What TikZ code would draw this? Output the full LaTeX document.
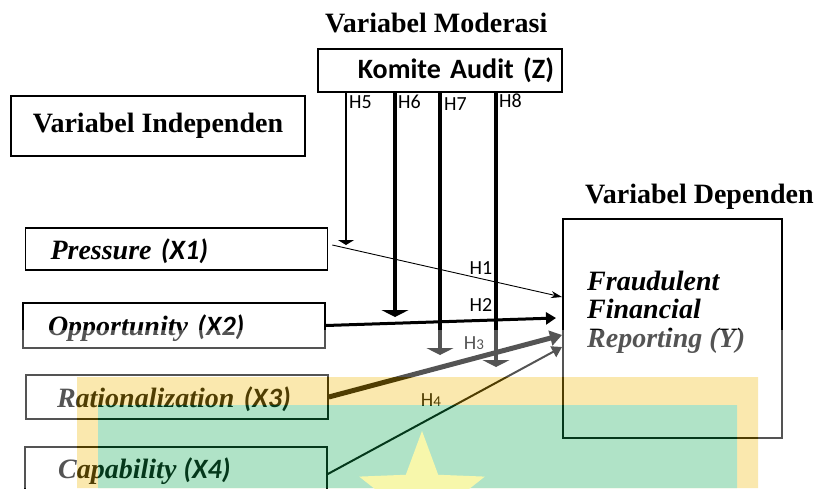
\documentclass[tikz,border=0pt]{standalone}
\usepackage{fontspec}
\setmainfont{Liberation Serif}[BoldFont={Liberation Serif Bold}, ItalicFont={Liberation Serif Italic}, BoldItalicFont={Liberation Serif Bold Italic}]
\setsansfont{Carlito}
\usepackage{xcolor}
\usetikzlibrary{arrows.meta,shapes.geometric,positioning}

\definecolor{wmyellow}{rgb}{0.94,0.73,0.03}
\definecolor{wmgreen}{rgb}{0.06,0.67,0.33}
\definecolor{wmstar}{rgb}{0.91,0.91,0.0}

\begin{document}
\begin{tikzpicture}[x=1pt, y=-1pt,
        title/.style={font=\fontsize{28}{30}\selectfont\bfseries, inner sep=0pt},
        varbox/.style={draw, line width=1.6pt, text width=252pt, inner xsep=25pt, inner ysep=0pt, text depth=0pt, align=left, font=\fontsize{28}{30}\selectfont\bfseries\itshape},
        hlabel/.style={font=\sffamily\fontsize{20}{20}\selectfont, inner sep=0pt},
        modline/.style={line width=3.5pt, -{Triangle[width=27pt,length=7pt]}},
        effline/.style={-{Triangle[width=12pt,length=10pt]}}]

    \path[use as bounding box] (0,0) rectangle (818,488);
    \clip (0,0) rectangle (818,488);

    % judul
    \node [title, anchor=base west] (modtitle) at (325,32) {Variabel Moderasi};
    \node [title, anchor=base west] (deptitle) at (585,203) {Variabel Dependen};
    \node [draw, line width=1.6pt, minimum width=294pt, minimum height=60pt, font=\fontsize{28}{30}\selectfont\bfseries] (indtitle) at (158,126) {Variabel Independen};

    % variabel
    \node [draw, line width=1.6pt, minimum height=43pt, text width=228pt, inner xsep=8pt, align=right, font=\sffamily\fontsize{28}{28}\selectfont\bfseries] (komite) at (440,70.5) {Komite Audit (Z)};
    \node [varbox, minimum height=42pt] (x1) at (176.5,249) {Pressure \textsf{(X1)}};
    \node [varbox, minimum height=45pt] (x2) at (174,325.5) {Opportunity \textsf{(X2)}};
    \node [varbox, minimum height=44pt] (x3) at (177,397) {\hspace*{6pt}Rationalization \textsf{(X3)}};
    \node [varbox, minimum height=54pt] (x4) at (176,474) {};
    \node [anchor=base west, inner sep=0pt, font=\fontsize{28}{30}\selectfont\bfseries\itshape] (x4text) at (58,478) {Capability \textsf{(X4)}};
    \node [draw, line width=1.6pt, minimum width=219pt, minimum height=219pt] (fr) at (672.5,328.5) {};
    \node [anchor=north west, inner sep=0pt, align=left, font=\fontsize{28}{28}\selectfont\bfseries\itshape] (frtext) at (587,270.5) {Fraudulent\\Financial\\[1pt]Reporting (Y)};

    % ujung panah
    \coordinate (t5) at (346,245);
    \coordinate (t6) at (395,317);
    \coordinate (t7) at (440,355);
    \coordinate (t8) at (496,367);
    \coordinate (y1) at (562,297);
    \coordinate (y2) at (556,318);
    \coordinate (y3) at (562,335);
    \coordinate (y4) at (562,347);

    \draw [line width=1.8pt, -{Triangle[width=16pt,length=5pt]}] (komite.south -| t5) -- (t5);
    \draw [modline] (komite.south -| t6) -- (t6);
    \draw [modline] (komite.south -| t7) -- (t7);
    \draw [modline] (komite.south -| t8) -- (t8);

    \draw [line width=0.9pt, -{Stealth[width=7pt,length=11pt]}] ([xshift=4pt,yshift=4pt]x1.east) -- (y1);
    \draw [effline, line width=3pt] (x2.east) -- (y2);
    \draw [line width=5pt, -{Triangle[width=15pt,length=12pt]}] (x3.east) -- (y3);
    \draw [effline, line width=2pt] (x4.east) -- (y4);

    \node [hlabel, anchor=west] (h5) at (349,102) {H5};
    \node [hlabel, anchor=west] (h6) at (398,102) {H6};
    \node [hlabel, anchor=west] (h7) at (444,104) {H7};
    \node [hlabel, anchor=west] (h8) at (499,101) {H8};
    \node [hlabel] (h1) at (481,268) {H1};
    \node [hlabel] (h2) at (481,305) {H2};
    \node [hlabel] (h3) at (474,343) {H{\fontsize{15}{15}\selectfont 3}};
    \node [hlabel] (h4) at (431,400) {H{\fontsize{15}{15}\selectfont 4}};

    % logo latar
    \begin{scope}[opacity=0.33, transparency group]
        \fill [white] (0,330) rectangle (818,488);
        \fill [wmyellow] (77,377) rectangle (758,488);
        \fill [wmgreen] (98,405) rectangle (737,488);
        \node [star, star points=5, star point ratio=2.4, minimum size=132pt, fill=wmstar, inner sep=0pt] (logostar) at (422,497) {};
    \end{scope}
\end{tikzpicture}
\end{document}
